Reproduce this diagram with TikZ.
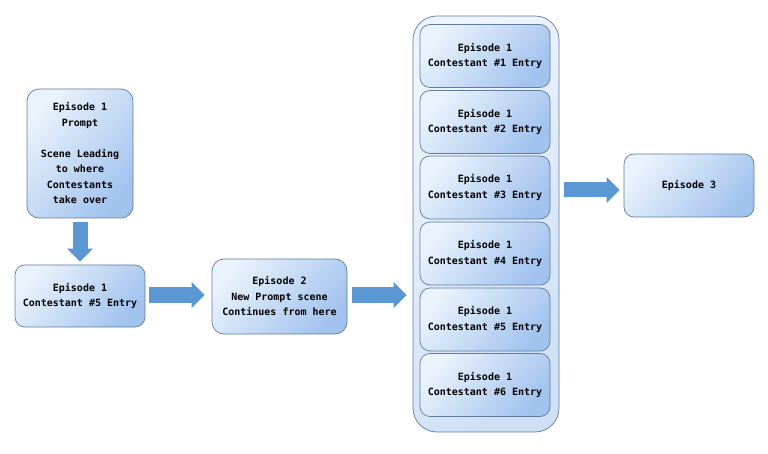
\documentclass[tikz,border=0pt]{standalone}
\usepackage{fontspec}
\setmainfont{DejaVu Sans Mono}
\usetikzlibrary{arrows.meta}
\definecolor{boxlight}{HTML}{EAF2FC}
\definecolor{boxdark}{HTML}{A2C3EE}
\definecolor{boxline}{HTML}{5F7C9C}
\definecolor{contlight}{HTML}{EEF4FC}
\definecolor{contdark}{HTML}{CFE0F6}
\definecolor{arrowblue}{HTML}{5B97D3}
\tikzset{
  ebox/.style={draw=boxline, line width=0.7pt, rounded corners=10pt,
    top color=boxlight, bottom color=boxdark, shading angle=50,
    align=center, font=\fontsize{10}{15.5}\selectfont\bfseries,
    inner sep=0pt},
  contbox/.style={draw=boxline, line width=0.7pt, rounded corners=24pt,
    top color=contlight, bottom color=contdark, shading angle=45,
    inner sep=0pt},
  barrow/.style={draw=arrowblue, line width=15pt,
    -{Triangle[width=25pt,length=13pt]}}
}
\begin{document}
\begin{tikzpicture}[x=1pt,y=-1pt]
\useasboundingbox (0,0) rectangle (768,454);
\node[ebox, minimum width=106pt, minimum height=129pt, rounded corners=12pt] (prompt) at (80,153.5)
  {Episode 1\\Prompt\\[15.5pt]Scene Leading\\to where\\Contestants\\take over};
\node[ebox, minimum width=130pt, minimum height=62pt] (c5a) at (80,296)
  {Episode 1\\Contestant \#5 Entry};
\node[ebox, minimum width=135pt, minimum height=75pt, rounded corners=12pt] (ep2) at (279.5,296.5)
  {Episode 2\\New Prompt scene\\Continues from here};
\node[contbox, minimum width=146pt, minimum height=416pt] (cont) at (486,224) {};
\node[ebox, minimum width=130pt, minimum height=63pt] (e1) at (485,56) {Episode 1\\Contestant \#1 Entry};
\node[ebox, minimum width=130pt, minimum height=63pt] (e2) at (485,122) {Episode 1\\Contestant \#2 Entry};
\node[ebox, minimum width=130pt, minimum height=63pt] (e3) at (485,187.5) {Episode 1\\Contestant \#3 Entry};
\node[ebox, minimum width=130pt, minimum height=63pt] (e4) at (485,253.5) {Episode 1\\Contestant \#4 Entry};
\node[ebox, minimum width=130pt, minimum height=63pt] (e5) at (485,319.5) {Episode 1\\Contestant \#5 Entry};
\node[ebox, minimum width=130pt, minimum height=63pt] (e6) at (485,385) {Episode 1\\Contestant \#6 Entry};
\node[ebox, minimum width=130pt, minimum height=63pt] (ep3) at (689,185.5) {Episode 3};
% arrows
\draw[barrow, shorten <=4pt, shorten >=3pt] (prompt.south) -- (c5a.north);
\draw[barrow, shorten <=4pt, shorten >=7pt] ([yshift=1pt]c5a.east) -- ([yshift=1pt]c5a.east -| ep2.west);
\draw[barrow, shorten <=5pt, shorten >=6pt] ([yshift=1.5pt]ep2.east) -- ([yshift=1.5pt]ep2.east -| cont.west);
\draw[barrow, shorten <=5pt, shorten >=4pt] ([yshift=-4.5pt]ep3.west -| cont.east) -- ([yshift=-4.5pt]ep3.west);
\end{tikzpicture}
\end{document}
